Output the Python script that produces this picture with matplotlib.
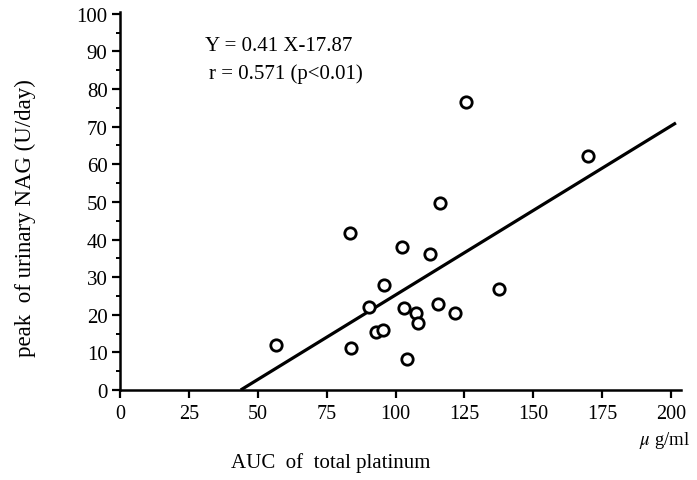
import numpy as np
import matplotlib
matplotlib.use("Agg")
import matplotlib.pyplot as plt
from matplotlib.ticker import MultipleLocator

#### data
auc = [56.7, 83.7, 83.5, 90.4, 92.9, 95.4, 95.7, 102.4, 103.1, 104.1,
       107.3, 108.2, 112.5, 116.3, 115.3, 121.7, 125.5, 137.5, 170.0]
nag = [11.9, 11.1, 41.8, 22.1, 15.3, 16.0, 27.8, 38.0, 21.7, 8.2,
       20.4, 17.9, 36.2, 49.7, 22.8, 20.4, 76.6, 26.8, 62.2]

fit_x = [43.8, 201.8]
fit_y = [0.0, 71.0]

x_ticks = [0, 25, 50, 75, 100, 125, 150, 175, 200]
y_ticks = [0, 10, 20, 30, 40, 50, 60, 70, 80, 90, 100]

plt.rcParams['font.family'] = ['Liberation Serif', 'DejaVu Serif']
plt.rcParams['mathtext.fontset'] = 'stix'

fig = plt.figure(figsize=(6.97, 4.81), dpi=100)
ax = fig.add_axes([0.1722, 0.1871, 0.8043, 0.786])

ax.plot(fit_x, fit_y, color='black', lw=2.3, solid_capstyle='butt', zorder=2)
ax.plot(auc, nag, 'o', ms=8.2, mfc='white', mec='black', mew=2.0, zorder=3)

ax.set_xlim(0, 203.5)
ax.set_ylim(0, 100.5)
ax.set_xticks(x_ticks)
ax.set_yticks(y_ticks)
ax.yaxis.set_minor_locator(MultipleLocator(5))

for s in ['top', 'right']:
    ax.spines[s].set_visible(False)
for s in ['left', 'bottom']:
    ax.spines[s].set_linewidth(1.8)

ax.tick_params(axis='both', which='major', direction='out', length=6, width=1.6,
               labelsize=15, pad=3)
ax.tick_params(axis='x', which='major', labelsize=14.5, pad=4)
ax.tick_params(axis='y', which='minor', direction='out', length=3, width=1.4)

ax.text(0.152, 0.9, 'Y = 0.41 X-17.87', transform=ax.transAxes, fontsize=15)
ax.text(0.158, 0.825, 'r = 0.571 (p<0.01)', transform=ax.transAxes, fontsize=15)

fig.text(0.474, 0.037, 'AUC  of  total platinum', ha='center', va='center', fontsize=15)
fig.text(0.953, 0.085, '$\\mu$ g/ml', ha='center', va='center', fontsize=13.5)
fig.text(0.036, 0.547, 'peak  of urinary NAG (U/day)', ha='center', va='center',
         rotation=90, fontsize=16.5)

fig.savefig('out.png', dpi=100)
